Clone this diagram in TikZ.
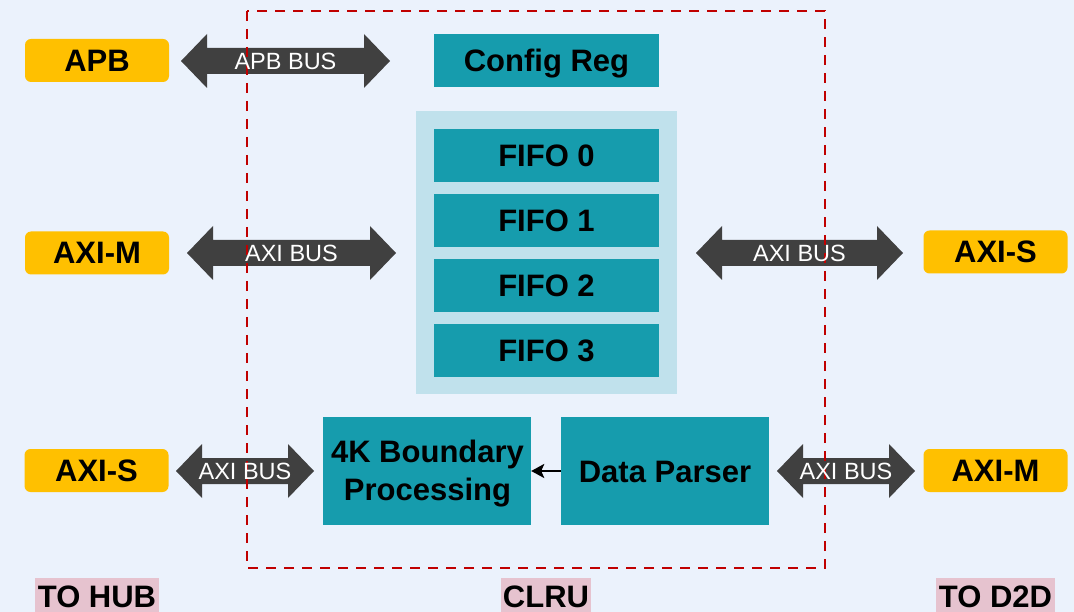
\documentclass[tikz,border=0pt]{standalone}
\usepackage{fontspec}
\setmainfont{Liberation Sans}
\usetikzlibrary{arrows.meta}

\definecolor{bgblue}{HTML}{EBF2FC}
\definecolor{portyellow}{HTML}{FFC000}
\definecolor{blockteal}{HTML}{169CAD}
\definecolor{fifobg}{HTML}{C0E1EC}
\definecolor{busgrey}{HTML}{404040}
\definecolor{clrured}{HTML}{C00000}
\definecolor{tagpink}{HTML}{E6C3CF}

\tikzset{
  boldtxt/.style={font=\bfseries\fontsize{31}{38}\selectfont, text=black},
  port/.style={boldtxt, fill=portyellow, rounded corners=6pt, inner sep=0pt,
    minimum width=144pt, minimum height=43pt, text height=22pt, text depth=0pt},
  block/.style={boldtxt, fill=blockteal, inner sep=0pt, text height=22pt, text depth=0pt},
  buslabel/.style={font=\fontsize{23.5}{28}\selectfont, text=white, inner sep=0pt},
  tag/.style={boldtxt, fill=tagpink, inner sep=0pt, anchor=north,
    minimum height=36pt, text height=22pt, text depth=0pt},
  boundary/.style={draw=clrured, line width=2.8pt, dash pattern=on 10pt off 8pt},
  busfill/.style={fill=busgrey},
}

% double-headed bus arrow: left x, right x, centre y
\newcommand\busshape[3]{%
  \fill[busfill] (#1,#3) -- (#1+26,#3-27) -- (#1+26,#3-13) -- (#2-26,#3-13)
    -- (#2-26,#3-27) -- (#2,#3) -- (#2-26,#3+27) -- (#2-26,#3+13)
    -- (#1+26,#3+13) -- (#1+26,#3+27) -- cycle;}

\begin{document}
\begin{tikzpicture}[x=1pt,y=-1pt]
\fill[bgblue] (0,0) rectangle (1074,612);
\useasboundingbox (0,0) rectangle (1074,612);

% FIFO container
\fill[fifobg] (416,111) rectangle (677,394);

% inner blocks
\node[block, minimum width=225pt, minimum height=53pt] (cfg) at (546.5,60.5) {Config Reg};
\node[block, minimum width=225pt, minimum height=53pt] (f0) at (546.5,155.5) {FIFO 0};
\node[block, minimum width=225pt, minimum height=53pt] (f1) at (546.5,220.5) {FIFO 1};
\node[block, minimum width=225pt, minimum height=53pt] (f2) at (546.5,285.5) {FIFO 2};
\node[block, minimum width=225pt, minimum height=53pt] (f3) at (546.5,350.5) {FIFO 3};
\node[fill=blockteal, minimum width=208pt, minimum height=108pt, inner sep=0pt] (kb) at (427,471) {};
\node[boldtxt, align=center, inner sep=0pt] (kbtxt) at (427.5,474) {4K Boundary\\Processing};
\node[block, minimum width=208pt, minimum height=108pt] (dp) at (665,471) {Data Parser};

\draw[line width=2.6pt, -{Stealth[length=13pt,width=14pt,inset=3pt]}] (dp.west) -- (kb.east);

% external ports
\node[port] (apb) at (97,60.5) {APB};
\node[port] (axim) at (97,253) {AXI-M};
\node[port] (axisl) at (96.5,470.5) {AXI-S};
\node[port] (axisr) at (995.5,252) {AXI-S};
\node[port] (aximr) at (995.5,470.5) {AXI-M};

% bus arrows
\busshape{181}{390}{61}
\busshape{187}{396}{253}
\busshape{696}{903}{253}
\busshape{176}{314}{471}
\busshape{777}{915}{471}

% CLRU boundary
\draw[boundary] (247,11) rectangle (825,568);

% bus labels
\node[buslabel] (apbbus) at (285.5,61) {APB BUS};
\node[buslabel] (axibus1) at (291.5,253) {AXI BUS};
\node[buslabel] (axibus2) at (799.5,253) {AXI BUS};
\node[buslabel] (axibus3) at (245,471) {AXI BUS};
\node[buslabel] (axibus4) at (846,471) {AXI BUS};

% side tags
\node[tag, minimum width=124pt] (hub) at (97,578) {TO HUB};
\node[tag, minimum width=90pt] (clru) at (546,578) {CLRU};
\node[tag, minimum width=119pt] (d2d) at (995.5,578) {TO D2D};
\end{tikzpicture}
\end{document}
